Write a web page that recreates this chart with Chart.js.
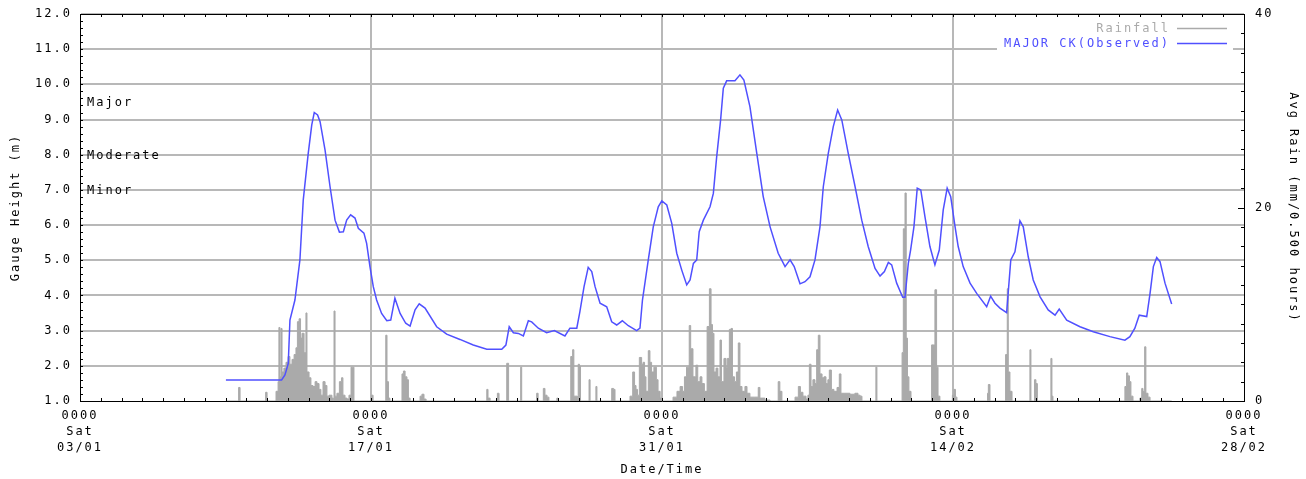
<!DOCTYPE html>
<html>
<head>
<meta charset="utf-8">
<script src="https://cdn.jsdelivr.net/npm/chart.js@4.4.1/dist/chart.umd.min.js"></script>
<style>
  html, body { margin: 0; padding: 0; background: #fff; }
  canvas { display: block; }
</style>
</head>
<body>
<canvas id="chart" width="1306" height="479"></canvas>
<script>
// x values are days since Sat 03/01 0000
const dateLabels = ['03/01', '17/01', '31/01', '14/02', '28/02'];
const floodNames = ['Major', 'Moderate', 'Minor'];
const floodLevels = [9.5, 8.0, 7.0];

// gauge height (m)
const levelObs = [
  [7.02,1.60],[9.70,1.60],[9.86,1.74],[10.02,2.07],[10.10,3.30],[10.34,3.87],[10.58,5.01],[10.74,6.71],
  [10.98,8.04],[11.15,8.85],[11.27,9.20],[11.43,9.13],[11.55,8.94],[11.79,8.13],[12.03,7.09],[12.27,6.14],
  [12.48,5.80],[12.67,5.81],[12.83,6.14],[13.02,6.29],[13.23,6.20],[13.39,5.91],[13.66,5.77],[13.79,5.48],
  [13.95,4.82],[14.11,4.25],[14.27,3.87],[14.51,3.49],[14.76,3.28],[14.95,3.30],[15.15,3.92],[15.40,3.49],
  [15.67,3.21],[15.88,3.13],[16.12,3.59],[16.32,3.76],[16.60,3.64],[17.16,3.11],[17.64,2.90],[18.28,2.75],
  [18.92,2.59],[19.57,2.47],[20.29,2.47],[20.49,2.59],[20.65,3.11],[20.85,2.94],[21.09,2.92],[21.33,2.85],
  [21.57,3.28],[21.73,3.25],[22.05,3.07],[22.45,2.94],[22.82,3.00],[23.33,2.85],[23.57,3.07],[23.90,3.07],
  [24.05,3.54],[24.25,4.25],[24.45,4.80],[24.62,4.68],[24.78,4.25],[25.02,3.78],[25.34,3.68],[25.58,3.25],
  [25.82,3.16],[26.09,3.28],[26.38,3.14],[26.78,3.00],[26.94,3.07],[27.06,3.87],[27.34,5.01],[27.58,5.95],
  [27.82,6.52],[27.99,6.69],[28.23,6.57],[28.47,6.05],[28.71,5.20],[28.95,4.72],[29.19,4.30],[29.35,4.44],
  [29.51,4.91],[29.67,5.01],[29.79,5.81],[29.99,6.14],[30.31,6.52],[30.47,6.90],[30.63,7.94],[30.82,8.99],
  [30.95,9.89],[31.11,10.10],[31.51,10.10],[31.75,10.27],[31.94,10.12],[32.23,9.37],[32.56,8.04],[32.87,6.81],
  [33.20,5.95],[33.59,5.20],[33.92,4.82],[34.16,5.01],[34.36,4.82],[34.64,4.33],[34.88,4.39],[35.12,4.53],
  [35.36,5.01],[35.60,5.95],[35.76,7.09],[36.00,8.04],[36.24,8.80],[36.45,9.27],[36.65,8.99],[36.96,8.04],
  [37.29,7.09],[37.61,6.14],[37.92,5.39],[38.25,4.77],[38.49,4.55],[38.70,4.68],[38.89,4.94],[39.05,4.87],
  [39.29,4.35],[39.58,3.95],[39.69,3.95],[39.85,4.91],[39.96,5.29],[40.12,5.95],[40.28,7.05],[40.45,7.00],
  [40.65,6.24],[40.89,5.39],[41.13,4.87],[41.34,5.29],[41.53,6.43],[41.72,7.05],[41.89,6.81],[42.10,5.95],
  [42.25,5.39],[42.49,4.82],[42.82,4.35],[43.14,4.06],[43.62,3.68],[43.81,3.98],[44.02,3.78],[44.26,3.64],
  [44.58,3.51],[44.78,5.01],[44.98,5.24],[45.22,6.12],[45.38,5.95],[45.62,5.10],[45.86,4.44],[46.19,3.96],
  [46.58,3.59],[46.91,3.44],[47.11,3.61],[47.47,3.30],[48.11,3.11],[48.75,2.97],[49.55,2.83],[50.27,2.73],
  [50.51,2.83],[50.75,3.07],[50.96,3.44],[51.32,3.40],[51.48,4.06],[51.64,4.82],[51.80,5.08],[51.96,4.96],
  [52.20,4.35],[52.52,3.76]
];

// avg rain (mm / 0.5 h)
const rainfall = [
  [7.02,0],[7.51,0],[7.63,1.4],[7.70,0],[8.80,0],[8.93,0.9],[9.00,0],[9.33,0],[9.43,1.0],[9.53,2.0],
  [9.57,7.6],[9.62,2.5],[9.67,7.5],[9.72,3.0],[9.81,3.4],[9.91,4.0],[10.01,4.6],[10.10,3.8],[10.20,4.3],
  [10.30,4.8],[10.39,5.5],[10.46,8.2],[10.54,8.5],[10.61,6.5],[10.68,7.0],[10.78,5.0],[10.87,9.1],[10.92,3.0],
  [11.02,2.4],[11.11,1.6],[11.21,1.5],[11.31,2.0],[11.40,1.8],[11.50,1.2],[11.59,0.6],[11.69,2.0],[11.79,1.6],
  [11.88,0.5],[11.98,0.6],[12.12,0.3],[12.19,0],[12.22,9.3],[12.27,0.5],[12.36,0.8],[12.48,2.0],[12.58,2.4],
  [12.65,0.6],[12.75,0.3],[12.85,0.2],[12.94,0.6],[13.04,3.5],[13.11,3.5],[13.18,0],[13.90,0],[14.02,0.6],
  [14.10,0],[14.63,0],[14.71,6.8],[14.77,2.0],[14.84,0.3],[14.91,0],[15.40,0],[15.49,2.8],[15.56,3.1],
  [15.64,2.5],[15.73,2.2],[15.80,0.3],[15.88,0],[16.26,0],[16.36,0.5],[16.45,0.7],[16.55,0.2],[16.65,0],
  [19.44,0],[19.57,1.2],[19.63,0.3],[19.73,0],[19.97,0],[20.08,0.8],[20.16,0],[20.47,0],[20.53,3.9],
  [20.57,3.9],[20.62,0],[21.15,0],[21.20,3.5],[21.25,0],[21.84,0],[21.97,0.8],[22.04,0],[22.23,0],
  [22.29,1.3],[22.37,0.6],[22.47,0.4],[22.56,0],[22.90,0],[22.94,0.3],[22.99,0],[23.57,0],[23.61,4.6],
  [23.70,5.3],[23.76,0.5],[23.93,0],[23.97,3.8],[24.03,3.6],[24.08,0],[24.44,0],[24.49,2.2],[24.54,0],
  [24.78,0],[24.82,1.5],[24.87,0],[25.50,0],[25.58,1.3],[25.67,1.2],[25.74,0],[26.36,0],[26.46,0.5],
  [26.59,3.0],[26.68,1.6],[26.75,1.2],[26.82,0.6],[26.91,4.5],[27.02,3.8],[27.09,4.0],[27.16,2.5],[27.23,1.0],
  [27.34,5.2],[27.42,4.0],[27.50,3.0],[27.61,3.5],[27.73,2.2],[27.81,1.0],[27.91,0.3],[28.00,0],[28.39,0],
  [28.53,0.4],[28.72,1.0],[28.87,1.5],[28.99,1.0],[29.08,2.5],[29.18,3.5],[29.31,7.8],[29.38,5.4],[29.49,2.5],
  [29.63,3.7],[29.72,2.0],[29.83,2.5],[29.92,1.8],[30.04,1.0],[30.17,7.7],[30.28,11.6],[30.36,7.9],[30.43,7.0],
  [30.50,3.0],[30.60,3.4],[30.69,2.5],[30.79,6.3],[30.86,2.0],[30.98,4.4],[31.08,3.5],[31.14,4.4],[31.24,7.4],
  [31.32,7.5],[31.39,2.5],[31.49,2.0],[31.58,3.0],[31.67,6.0],[31.75,1.5],[31.85,1.0],[31.99,1.5],[32.09,0.8],
  [32.23,0.4],[32.43,0.4],[32.63,1.4],[32.71,0.3],[32.95,0.1],[33.20,0],[33.48,0],[33.59,2.0],[33.67,1.0],
  [33.77,0],[34.16,0],[34.40,0.4],[34.56,1.5],[34.66,0.9],[34.78,0.5],[34.93,0.2],[35.02,0.6],[35.09,3.8],
  [35.17,1.5],[35.26,2.2],[35.36,1.8],[35.44,5.3],[35.52,6.8],[35.60,2.8],[35.70,2.4],[35.79,2.5],[35.89,1.8],
  [35.98,2.2],[36.05,3.2],[36.15,1.2],[36.27,1.0],[36.42,1.4],[36.53,2.8],[36.61,0.8],[36.80,0.8],[37.04,0.7],
  [37.28,0.8],[37.43,0.6],[37.53,0.5],[37.62,0],[38.24,0],[38.29,3.5],[38.34,0],[39.45,0],[39.55,5.0],
  [39.61,17.8],[39.69,21.5],[39.75,6.5],[39.81,2.5],[39.88,1.0],[39.98,0],[40.89,0],[40.97,5.8],[41.05,5.8],
  [41.13,11.5],[41.21,3.5],[41.28,0.5],[41.37,0],[41.90,0],[41.97,0.6],[42.05,1.2],[42.12,0.4],[42.19,0],
  [43.59,0],[43.66,0.8],[43.70,1.7],[43.78,0],[44.45,0],[44.53,4.8],[44.61,11.6],[44.66,3.0],[44.74,1.0],
  [44.84,0],[45.65,0],[45.70,5.3],[45.75,0],[45.87,0],[45.92,2.2],[45.99,1.8],[46.06,0],[46.67,0],
  [46.71,4.4],[46.76,0.5],[46.81,0],[50.17,0],[50.27,1.5],[50.35,2.9],[50.41,2.6],[50.49,2.0],[50.56,0.5],
  [50.66,0],[50.90,0],[50.99,0.3],[51.08,1.3],[51.14,1.0],[51.22,5.6],[51.28,0.8],[51.38,0.4],[51.48,0],
  [52.52,0]
];

const FONT = { family: '"DejaVu Sans Mono", monospace', size: 12, lineHeight: '16px' };
const BLUE = '#5050ff';
const GREY = '#aaaaaa';
const GRID = '#b8b8b8';
const clear = 'rgba(0,0,0,0)';

// fixed plot frame: left 80, right 62, bottom 78 (top comes from layout padding)
function fixWidth(w) {
  return s => { s.width = w; s.paddingTop = 0; s.paddingBottom = 0; };
}

const extras = {
  id: 'extras',
  beforeLayout(chart) { chart.ctx.letterSpacing = '2px'; },
  beforeDraw(chart) { chart.ctx.letterSpacing = '2px'; },
  afterDraw(chart) {
    const ctx = chart.ctx;
    const a = chart.chartArea;
    const xs = chart.scales.x, ys = chart.scales.y, y2 = chart.scales.y2;
    ctx.save();

    // legend background
    ctx.fillStyle = '#fff';
    ctx.fillRect(a.right - 247, a.top + 4, 236, 34);

    // minor ticks + top frame line
    ctx.strokeStyle = '#000';
    ctx.lineWidth = 1;
    ctx.beginPath();
    for (let d = 0; d <= 56; d++) {
      const px = Math.round(xs.getPixelForValue(d)) + 0.5;
      ctx.moveTo(px, a.bottom); ctx.lineTo(px, a.bottom - 3);
      ctx.moveTo(px, a.top); ctx.lineTo(px, a.top + 3);
    }
    for (let v = 10; v <= 120; v += 2) {
      const py = Math.round(ys.getPixelForValue(v / 10)) + 0.5;
      ctx.moveTo(a.left, py); ctx.lineTo(a.left + 3, py);
    }
    for (let v = 0; v <= 40; v += 2) {
      const py = Math.round(y2.getPixelForValue(v)) + 0.5;
      ctx.moveTo(a.right, py); ctx.lineTo(a.right - (v % 20 === 0 ? 6 : 3), py);
    }
    ctx.moveTo(a.left, Math.round(a.top) + 0.5);
    ctx.lineTo(a.right, Math.round(a.top) + 0.5);
    ctx.stroke();

    ctx.font = '12px "DejaVu Sans Mono", monospace';
    ctx.textBaseline = 'middle';

    // flood classification labels
    ctx.fillStyle = '#000';
    ctx.textAlign = 'left';
    floodNames.forEach((n, i) => {
      ctx.fillText(n, a.left + 7, ys.getPixelForValue(floodLevels[i]) + 1);
    });

    // legend
    ctx.textAlign = 'right';
    const lx = a.right - 74;
    ctx.fillStyle = GREY;
    ctx.fillText('Rainfall', lx, a.top + 15);
    ctx.fillStyle = BLUE;
    ctx.fillText('MAJOR CK(Observed)', lx, a.top + 30);
    ctx.lineWidth = 1.5;
    ctx.beginPath();
    ctx.strokeStyle = GREY;
    ctx.moveTo(a.right - 67, a.top + 14.5); ctx.lineTo(a.right - 17, a.top + 14.5);
    ctx.stroke();
    ctx.beginPath();
    ctx.strokeStyle = BLUE;
    ctx.moveTo(a.right - 67, a.top + 29.5); ctx.lineTo(a.right - 17, a.top + 29.5);
    ctx.stroke();

    ctx.restore();
  }
};

new Chart(document.getElementById('chart'), {
  type: 'line',
  data: {
    datasets: [
      {
        label: 'MAJOR CK(Observed)',
        data: levelObs.map(p => ({ x: p[0], y: p[1] })),
        borderColor: BLUE,
        borderWidth: 1.5,
        pointRadius: 0,
        tension: 0,
        yAxisID: 'y',
        order: 0
      },
      {
        label: 'Rainfall',
        data: rainfall.map(p => ({ x: p[0], y: p[1] })),
        borderColor: GREY,
        backgroundColor: GREY,
        borderWidth: 1,
        fill: 'origin',
        stepped: true,
        pointRadius: 0,
        yAxisID: 'y2',
        order: 1
      }
    ]
  },
  options: {
    responsive: false,
    animation: false,
    devicePixelRatio: 1,
    layout: { padding: { top: 14, left: 0, right: 0, bottom: 0 } },
    plugins: {
      legend: { display: false },
      tooltip: { enabled: false }
    },
    scales: {
      x: {
        type: 'linear',
        min: 0,
        max: 56,
        afterFit: s => { s.height = 78; s.paddingLeft = 0; s.paddingRight = 0; },
        ticks: {
          stepSize: 14,
          autoSkip: false,
          maxRotation: 0,
          padding: 7,
          color: '#000',
          font: FONT,
          callback: (v, i) => ['0000', 'Sat', dateLabels[i]]
        },
        grid: {
          drawTicks: false,
          lineWidth: 2,
          color: c => (c.tick && (c.tick.value === 0 || c.tick.value === 56)) ? clear : GRID
        },
        border: { color: '#000' },
        title: { display: true, text: 'Date/Time', color: '#000', font: FONT, padding: { top: 0, bottom: 1 } }
      },
      y: {
        position: 'left',
        min: 1,
        max: 12,
        afterFit: fixWidth(80),
        ticks: { stepSize: 1, padding: 8, color: '#000', font: FONT, callback: v => v.toFixed(1) },
        grid: {
          drawTicks: false,
          lineWidth: 2,
          color: c => (c.tick && c.tick.value === 1) ? clear : GRID
        },
        border: { color: '#000' },
        title: { display: true, text: 'Gauge Height (m)', color: '#000', font: FONT, padding: { top: 8, bottom: 0 } }
      },
      y2: {
        position: 'right',
        min: 0,
        max: 40,
        afterFit: fixWidth(62),
        ticks: { stepSize: 20, padding: 11, color: '#000', font: FONT },
        grid: { display: false, drawTicks: false },
        border: { color: '#000' },
        title: { display: true, text: 'Avg Rain (mm/0.500 hours)', color: '#000', font: FONT, padding: { top: 5, bottom: 0 } }
      }
    }
  },
  plugins: [extras]
});
</script>
</body>
</html>
